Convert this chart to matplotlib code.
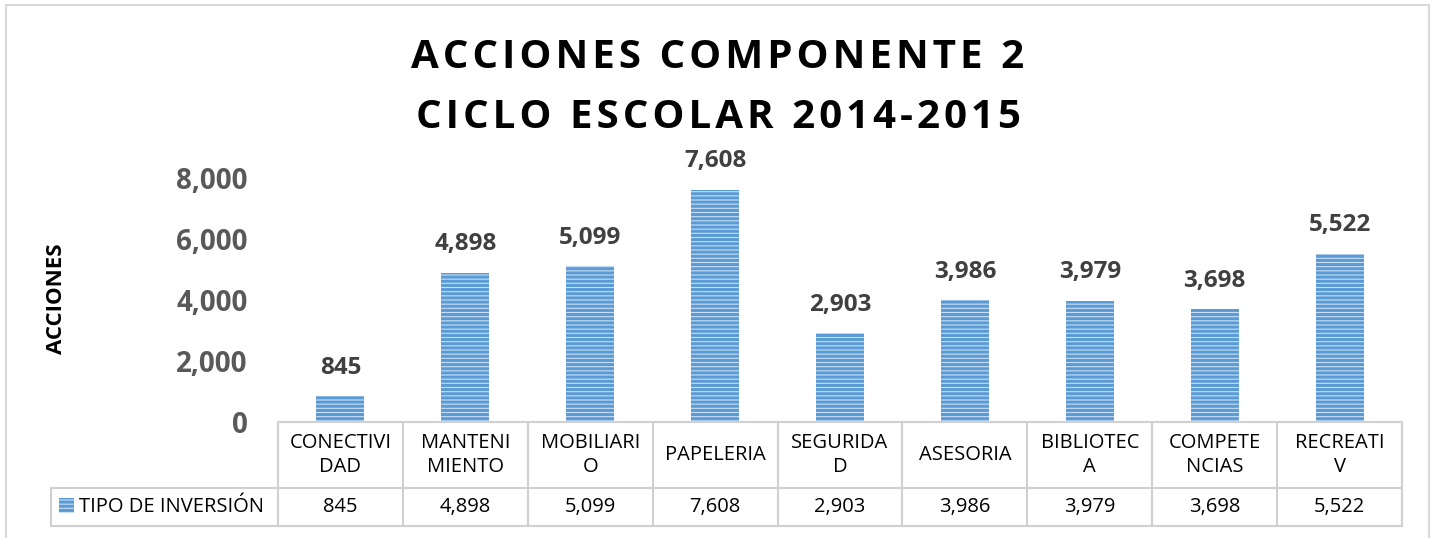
import matplotlib
matplotlib.use("Agg")
import matplotlib.pyplot as plt
from matplotlib.patches import Rectangle
from matplotlib.lines import Line2D

categories = ["CONECTIVI\nDAD", "MANTENI\nMIENTO", "MOBILIARI\nO", "PAPELERIA",
              "SEGURIDA\nD", "ASESORIA", "BIBLIOTEC\nA", "COMPETE\nNCIAS", "RECREATI\nV"]
values = [845, 4898, 5099, 7608, 2903, 3986, 3979, 3698, 5522]
series_name = "TIPO DE INVERSIÓN"
yticks = [0, 2000, 4000, 6000, 8000]
title_lines = ["ACCIONES COMPONENTE 2", "CICLO ESCOLAR 2014-2015"]
ylabel = "ACCIONES"

W, H = 1436, 538
plt.rcParams['font.family'] = ['Open Sans', 'DejaVu Sans']
plt.rcParams['hatch.linewidth'] = 2.2

fig = plt.figure(figsize=(W / 100, H / 100), dpi=100)
fig.patch.set_facecolor('white')

L, R, B, T = 278, 1402, 422, 178
ax = fig.add_axes([L / W, (H - B) / H, (R - L) / W, (B - T) / H])

x = list(range(len(values)))
ax.bar(x, values, width=0.385, facecolor='#c9def3', edgecolor='#5b9bd5',
       linewidth=0, hatch='----', zorder=2)
ax.set_xlim(-0.5, len(values) - 0.5)
ax.set_ylim(0, 8000)
ax.set_yticks(yticks)
ax.set_yticklabels([f"{v:,}" for v in yticks], fontsize=20, fontweight='bold', color='#595959')
ax.tick_params(axis='y', length=0, pad=22)
ax.set_xticks([])
for s in ax.spines.values():
    s.set_visible(False)

for xi, v in zip(x, values):
    ax.annotate(f"{v:,}", (xi, v), xytext=(0, 12), textcoords='offset points',
                ha='center', va='bottom', fontsize=17.5, fontweight='bold', color='#404040')

# title (letter-spaced) and y label
sp = '\u200a'
for line, yc in zip(title_lines, [58, 117]):
    fig.text(0.5, 1 - yc / H, sp.join(line), ha='center', va='center', fontsize=29,
             fontweight='bold', color='black')
fig.text(57 / W, 1 - 299 / H, ylabel, rotation=90, ha='center', va='center',
         fontsize=16, fontweight='bold', color='black')

# data table
def fx(p):
    return (p - L) / (R - L)

def fy(p):
    return (B - p) / (B - T)

lc = '#d0d0d0'
tr = ax.transAxes
def hline(x0, x1, y):
    ax.add_line(Line2D([fx(x0), fx(x1)], [fy(y), fy(y)], transform=tr, color=lc, lw=1.5, clip_on=False))
def vline(xp, y0, y1):
    ax.add_line(Line2D([fx(xp), fx(xp)], [fy(y0), fy(y1)], transform=tr, color=lc, lw=1.5, clip_on=False))

hline(L, R, 422)
hline(51, R, 488)
hline(51, R, 526)
vline(51, 488, 526)
n = len(values)
for i in range(n + 1):
    xp = L + i * (R - L) / n
    vline(xp, 422, 526)

for i, (c, v) in enumerate(zip(categories, values)):
    xc = (i + 0.5) / n
    ax.text(xc, fy(455), c, transform=tr, ha='center', va='center', fontsize=14.5,
            color='black', linespacing=1.3, clip_on=False)
    ax.text(xc, fy(507), f"{v:,}", transform=tr, ha='center', va='center', fontsize=14.5,
            color='black', clip_on=False)

ax.add_patch(Rectangle((fx(59), fy(513)), fx(74) - fx(59), fy(498) - fy(513), transform=tr,
                       facecolor='#c9def3', edgecolor='#5b9bd5', linewidth=0, hatch='----',
                       clip_on=False))
ax.text(fx(79), fy(507), series_name, transform=tr, ha='left', va='center', fontsize=14.5,
        color='black', clip_on=False)

# outer chart border
fig.patches.append(Rectangle((6 / W, -0.1), (1429 - 6) / W, (H - 5) / H + 0.1,
                             transform=fig.transFigure, fill=False, edgecolor='#d9d9d9',
                             linewidth=1.5))

fig.savefig('out.png', dpi=100, facecolor='white')
